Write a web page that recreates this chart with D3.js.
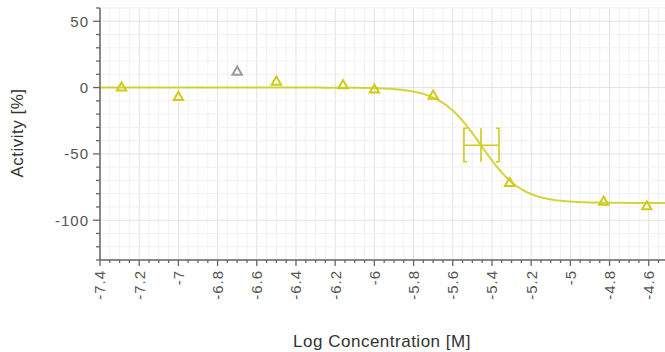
<!DOCTYPE html>
<html><head><meta charset="utf-8">
<script src="https://cdn.jsdelivr.net/npm/d3@7"></script>
<style>
body{margin:0;background:#fff;}
text{font-family:"Liberation Sans",Arial,sans-serif;}
</style></head>
<body><svg id="c" width="665" height="352"></svg>
<script>
// Data
const logConc   = [-7.29, -7.0, -6.5, -6.16, -6.0, -5.7, -5.31, -4.83, -4.61];
const activity  = [0.5, -6.5, 5, 2.2, -1, -5.6, -71.5, -85.5, -89];
const excludedConc = [-6.7];
const excludedAct  = [12.5];
// Fit parameters (4PL)
const fitTop = 0, fitBottom = -87, fitLogIC50 = -5.456, fitHill = 4.2;
const ic50XRange = [-5.543, -5.364];
const ic50YRange = [-30.7, -55.9];
const xMajorTicks = [-7.4,-7.2,-7,-6.8,-6.6,-6.4,-6.2,-6,-5.8,-5.6,-5.4,-5.2,-5,-4.8,-4.6];
const yMajorTicks = [50, 0, -50, -100];

const svg = d3.select("#c");
const L = 100, R = 665, T = 8, B = 260;
const x = d3.scaleLinear().domain([-7.4, -4.517]).range([L, R]);
const y = d3.scaleLinear().domain([-130, 60]).range([B, T]);

const xMinor = d3.range(0, 60).map(i => +(-7.4 + i*0.05).toFixed(2)).filter(v => v <= -4.517);
const yMinor = d3.range(-130, 61, 10);

const grid = svg.append("g");
grid.selectAll(".vx").data(xMinor).join("line")
  .attr("x1", d => x(d)).attr("x2", d => x(d)).attr("y1", T).attr("y2", B)
  .attr("stroke", d => xMajorTicks.some(m => Math.abs(m-d) < 1e-6) ? "#e2e2e2" : "#f1f1f1").attr("stroke-width", 1);
grid.selectAll(".hy").data(yMinor).join("line")
  .attr("x1", L).attr("x2", R).attr("y1", d => y(d)).attr("y2", d => y(d))
  .attr("stroke", d => yMajorTicks.includes(d) ? "#e2e2e2" : "#f1f1f1").attr("stroke-width", 1);

const col = "#cccc1a";
// curve
const f = v => fitTop + (fitBottom - fitTop) / (1 + Math.pow(10, (fitLogIC50 - v) * fitHill));
const cx = d3.range(0, 301).map(i => -7.4 + i * (2.883/300));
svg.append("path").datum(cx)
  .attr("d", d3.line().x(d => x(d)).y(d => y(f(d))))
  .attr("fill", "none").attr("stroke", col).attr("stroke-width", 2).attr("opacity", 0.85);

// IC50 crosshair
const ic = svg.append("g").attr("stroke", col).attr("stroke-width", 1.6).attr("fill", "none");
const cxI = x(fitLogIC50), cyI = y(f(fitLogIC50));
const xl = x(ic50XRange[0]), xr = x(ic50XRange[1]);
const yt = y(ic50YRange[0]), yb = y(ic50YRange[1]);
ic.append("line").attr("x1", xl).attr("x2", xr).attr("y1", cyI).attr("y2", cyI);
ic.append("line").attr("x1", cxI).attr("x2", cxI).attr("y1", yt).attr("y2", yb);
ic.append("path").attr("d", `M${xl+3},${yt}H${xl}V${yb}H${xl+3}`);
ic.append("path").attr("d", `M${xr-3},${yt}H${xr}V${yb}H${xr-3}`);

// triangles
const tri = d3.symbol().type(d3.symbolTriangle).size(38);
svg.append("g").selectAll("path").data(logConc.map((c,i)=>[c, activity[i]])).join("path")
  .attr("d", tri).attr("transform", d => `translate(${x(d[0])},${y(d[1])+1})`)
  .attr("fill", "none").attr("stroke", col).attr("stroke-width", 2);
svg.append("g").selectAll("path").data(excludedConc.map((c,i)=>[c, excludedAct[i]])).join("path")
  .attr("d", tri).attr("transform", d => `translate(${x(d[0])},${y(d[1])+1})`)
  .attr("fill", "none").attr("stroke", "#9a9a9a").attr("stroke-width", 2);

// axes
const axCol = "#666";
const ax = svg.append("g");
ax.append("line").attr("x1", L).attr("x2", L).attr("y1", T).attr("y2", B).attr("stroke", axCol).attr("stroke-width", 1.5);
ax.append("line").attr("x1", L).attr("x2", R).attr("y1", B).attr("y2", B).attr("stroke", axCol).attr("stroke-width", 1.5);
ax.selectAll(".ym").data(yMinor).join("line")
  .attr("x1", d => yMajorTicks.includes(d) ? L-7 : L-4).attr("x2", L).attr("y1", d => y(d)).attr("y2", d => y(d))
  .attr("stroke", axCol).attr("stroke-width", 1.3);
ax.selectAll(".xm").data(xMinor).join("line")
  .attr("x1", d => x(d)).attr("x2", d => x(d)).attr("y1", B)
  .attr("y2", d => xMajorTicks.some(m => Math.abs(m-d) < 1e-6) ? B+6 : B+3)
  .attr("stroke", axCol).attr("stroke-width", 1.3);
ax.selectAll(".yl").data(yMajorTicks).join("text")
  .attr("x", L-11).attr("y", d => y(d)).attr("dy", "0.36em").attr("text-anchor", "end")
  .attr("font-size", 15).attr("letter-spacing", 1).attr("fill", "#555").text(d => d);
ax.selectAll(".xl").data(xMajorTicks).join("text")
  .attr("transform", d => `translate(${x(d)},${B+10}) rotate(-90)`)
  .attr("dy", "0.36em").attr("text-anchor", "end")
  .attr("font-size", 15).attr("letter-spacing", 1).attr("fill", "#555").text(d => d);

svg.append("text").attr("x", 382).attr("y", 347).attr("text-anchor", "middle")
  .attr("font-size", 17).attr("letter-spacing", 0.5).attr("fill", "#333").text("Log Concentration [M]");
svg.append("text").attr("transform", "translate(23,133) rotate(-90)").attr("text-anchor", "middle")
  .attr("font-size", 17).attr("letter-spacing", 0.5).attr("fill", "#333").text("Activity [%]");
</script></body></html>
